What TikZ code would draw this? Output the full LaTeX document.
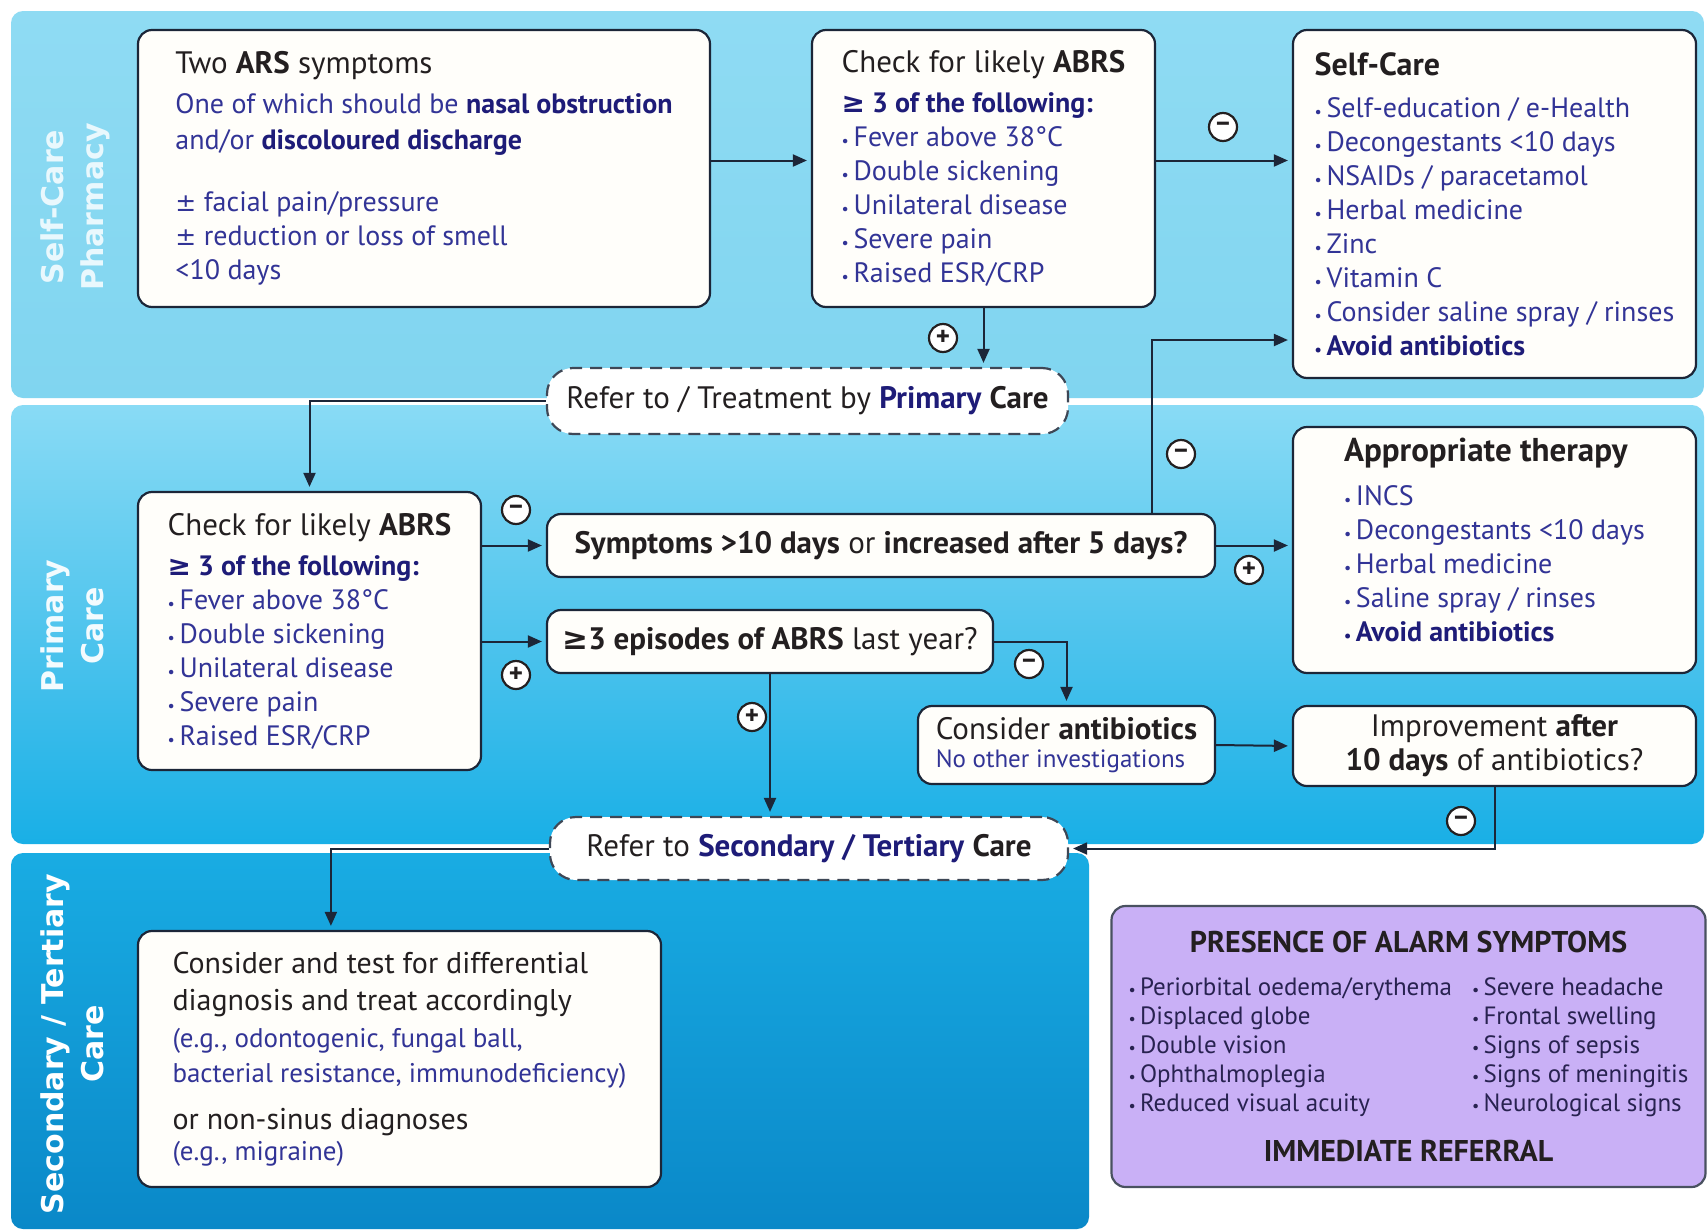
\documentclass[tikz,border=0pt]{standalone}
\usepackage{fontspec}
\setmainfont{PT Sans}
\newfontfamily\dvsans{DejaVu Sans}
\usepackage{tikz}
\usetikzlibrary{
  arrows.meta,
  calc}

\definecolor{ink}{RGB}{35,31,32}
\definecolor{navy}{RGB}{50,52,150}
\definecolor{deepnavy}{RGB}{30,28,120}
\definecolor{edge}{RGB}{28,38,56}
\definecolor{boxfill}{RGB}{255,254,250}
\definecolor{laneAtop}{RGB}{143,219,243}
\definecolor{laneAbot}{RGB}{128,213,240}
\definecolor{laneBtop}{RGB}{137,219,245}
\definecolor{laneBbot}{RGB}{25,175,230}
\definecolor{laneCtop}{RGB}{25,172,227}
\definecolor{laneCbot}{RGB}{10,136,200}
\definecolor{alarmfill}{RGB}{201,176,246}
\definecolor{alarmink}{RGB}{40,34,80}

\newcommand{\bodyfont}{\fontsize{14}{17}\selectfont}
\newcommand{\headfont}{\fontsize{15.5}{18}\selectfont}
\newcommand{\smallbody}{\fontsize{12.5}{14.5}\selectfont}
\newcommand{\blt}{{\fontsize{8}{8}\selectfont\textbullet}\,}
\newcommand{\gte}{{\dvsans ≥}}
\newcommand{\plmi}{{\dvsans\fontsize{12.5}{17}\selectfont ±}}
\newcommand{\abrscheck}{%
  {\headfont\color{ink}Check for likely \textbf{ABRS}}\\[3pt]
  \textbf{\color{deepnavy}\gte\ 3 of the following:}\\
  \blt Fever above 38°C\\
  \blt Double sickening\\
  \blt Unilateral disease\\
  \blt Severe pain\\
  \blt Raised ESR/CRP}

\begin{document}
\begin{tikzpicture}[x=0.5pt,y=-0.5pt]
\tikzset{
  lane/.style={rounded corners=6pt},
  lanetext/.style={align=center, rotate=90, font=\dvsans\bfseries\fontsize{15}{20}\selectfont},
  box/.style={draw=edge, line width=1.1pt, rounded corners=7pt, fill=boxfill,
    align=left, inner sep=0pt, font=\bodyfont, text=navy},
  refbox/.style={draw=edge!85, line width=1.1pt, dash pattern=on 6pt off 4pt,
    rounded corners=13pt, fill=white, inner sep=0pt, font=\headfont, text=ink},
  sign/.style={circle, draw=ink, fill=white, line width=1.1pt, inner sep=0pt,
    minimum size=14pt, font=\bfseries\fontsize{13.5}{13.5}\selectfont, text=ink},
  arr/.style={draw=edge, line width=1pt, -{Triangle[length=7pt,width=6pt]},
    shorten >=2pt},
}
\useasboundingbox (0,0) rectangle (1708,1231);
\fill[white] (0,0) rectangle (1708,1231);

% lanes
\shade[lane, top color=laneAtop, bottom color=laneAbot] (11,11) rectangle (1704,398);
\shade[lane, top color=laneBtop, bottom color=laneBbot] (11,405) rectangle (1704,844);
\shade[lane, top color=laneCtop, bottom color=laneCbot] (11,853) rectangle (1089,1229);
\node[lanetext, text=white!80!laneAtop] (lanepharm) at (75,207) {Self-Care\\Pharmacy};
\node[lanetext, text=white!90!laneBtop] (laneprim) at (72,626) {Primary\\Care};
\node[lanetext, text=white] (lanesec) at (72,1044) {Secondary / Tertiary\\Care};

% self-care / pharmacy
\node[box, minimum width=286pt, minimum height=138.5pt] (ars) at (424,168.5) {%
  {\headfont\color{ink}Two \textbf{ARS} symptoms}\\[3pt]
  One of which should be \textbf{\color{deepnavy}nasal obstruction}\\[1pt]
  and/or \textbf{\color{deepnavy}discoloured discharge}\\[14pt]
  \plmi\ facial pain/pressure\\
  \plmi\ reduction or loss of smell\\
  <10 days};
\node[box, minimum width=171.5pt, minimum height=138.5pt] (abrs1) at (983.5,168.5) {\abrscheck};
\node[box, minimum width=201.5pt, minimum height=174pt] (selfcare) at (1494.5,204) {%
  {\color{ink}\bfseries\fontsize{16}{18}\selectfont Self-Care}\\[4pt]
  \blt Self-education / e-Health\\
  \blt Decongestants <10 days\\
  \blt NSAIDs / paracetamol\\
  \blt Herbal medicine\\
  \blt Zinc\\
  \blt Vitamin C\\
  \blt Consider saline spray / rinses\\
  \textbf{\color{deepnavy}\blt Avoid antibiotics}};
\node[refbox, minimum width=260.5pt, minimum height=33pt] (refprim) at (807.5,401)
  {Refer to / Treatment by \textbf{\color{deepnavy}Primary} \textbf{Care}};

% primary care
\node[box, minimum width=171.5pt, minimum height=139pt] (abrs2) at (309.5,631) {\abrscheck};
\node[box, text=ink, font=\headfont, minimum width=334pt, minimum height=31.5pt] (sympt) at (881,545.5)
  {\textbf{Symptoms >10 days} or \textbf{increased after 5 days?}};
\node[box, text=ink, font=\headfont, minimum width=223pt, minimum height=31.5pt] (episodes) at (770,641.5)
  {\textbf{{\dvsans\bfseries ≥}3 episodes of ABRS} last year?};
\node[box, minimum width=201.5pt, minimum height=123pt] (therapy) at (1494.5,550) {%
  {\color{ink}\bfseries\fontsize{16.5}{18}\selectfont Appropriate therapy}\\[5pt]
  \blt INCS\\
  \blt Decongestants <10 days\\
  \blt Herbal medicine\\
  \blt Saline spray / rinses\\
  \textbf{\color{deepnavy}\blt Avoid antibiotics}\\[-7pt]
  \mbox{}};
\node[box, minimum width=148.5pt, minimum height=39pt] (antib) at (1066.5,745) {%
  {\headfont\color{ink}Consider \textbf{antibiotics}}\\[-3pt]
  {\smallbody No other investigations}};
\node[box, text=ink, font=\headfont, align=center, minimum width=201.5pt, minimum height=40pt] (improve) at (1494.5,746) {%
  Improvement \textbf{after}\\[-1pt]
  \textbf{10 days} of antibiotics?};
\node[refbox, minimum width=259pt, minimum height=31.5pt] (refsec) at (809,848.5)
  {Refer to \textbf{\color{deepnavy}Secondary / Tertiary} \textbf{Care}};

% secondary / tertiary care
\node[box, font=\fontsize{15}{18.5}\selectfont, minimum width=261.5pt, minimum height=128pt] (diffdx) at (399.5,1059) {%
  {\color{ink}Consider and test for differential}\\
  {\color{ink}diagnosis and treat accordingly}\\
  {\fontsize{13.5}{17}\selectfont (e.g., odontogenic, fungal ball,}\\[-1pt]
  {\fontsize{13.5}{17}\selectfont bacterial resistance, immunodeficiency)}\\[5pt]
  {\color{ink}or non-sinus diagnoses}\\[-3pt]
  {\fontsize{13.5}{17}\selectfont (e.g., migraine)}};
\node[draw=edge!80, line width=1.1pt, rounded corners=7pt, fill=alarmfill, align=center,
  inner sep=0pt, text=alarmink, minimum width=297pt, minimum height=140.5pt,
  font=\smallbody] (alarm) at (1408.5,1046.5) {%
  {\color{ink}\bfseries\fontsize{15}{17}\selectfont PRESENCE OF ALARM SYMPTOMS}\\[10pt]
  \begin{tabular}{@{}l@{\hspace{10pt}}l@{}}
    \blt Periorbital oedema/erythema & \blt Severe headache\\
    \blt Displaced globe & \blt Frontal swelling\\
    \blt Double vision & \blt Signs of sepsis\\
    \blt Ophthalmoplegia & \blt Signs of meningitis\\
    \blt Reduced visual acuity & \blt Neurological signs
  \end{tabular}\\[9pt]
  {\color{ink}\bfseries\fontsize{15}{17}\selectfont IMMEDIATE REFERRAL}};

% connectors
\draw[arr] ([yshift=4pt]ars.east) -- ([yshift=4pt]abrs1.west);
\draw[arr] ([yshift=4pt]abrs1.east) -- ([yshift=4pt]abrs1.east -| selfcare.west);
\draw[arr] (abrs1.south) -- (abrs1.south |- refprim.north);
\draw[arr] (refprim.west) -| (abrs2.north);
\draw[arr] (abrs2.east |- sympt.west) -- (sympt.west);
\draw[arr] (abrs2.east |- episodes.west) -- (episodes.west);
\draw[arr] ([xshift=-32pt]sympt.north east) |- ([yshift=-68pt]selfcare.west);
\draw[arr] (sympt.east) -- (sympt.east -| therapy.west);
\draw[arr] (episodes.east) -| (antib.north);
\draw[arr] (episodes.south) -- (episodes.south |- refsec.north);
\draw[arr] (antib.east) -- (improve.west);
\draw[arr] (improve.south) |- (refsec.east);
\draw[arr] (refsec.west) -| ([xshift=97pt]diffdx.north west);

% yes / no marks
\node[sign] (no1) at (1223,127) {–};
\node[sign] (yes1) at (943,338) {+};
\node[sign] (no2) at (516,510) {–};
\node[sign] (yes2) at (516,675) {+};
\node[sign] (no3) at (1181,454) {–};
\node[sign] (yes3) at (1249,570) {+};
\node[sign] (no4) at (1029,664) {–};
\node[sign] (yes4) at (752,717) {+};
\node[sign] (no5) at (1461,821) {–};
\end{tikzpicture}
\end{document}
